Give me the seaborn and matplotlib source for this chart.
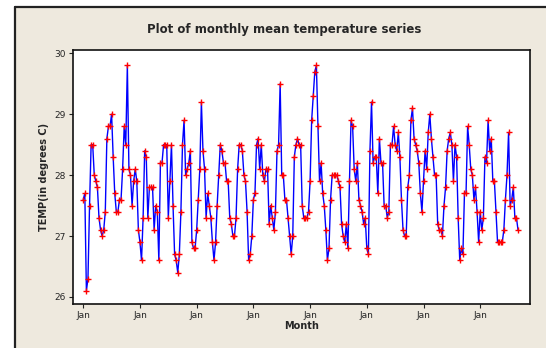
import numpy as np
import pandas as pd
import matplotlib
matplotlib.use("Agg")
import matplotlib.pyplot as plt
import seaborn as sns
from matplotlib.patches import Rectangle
from matplotlib.lines import Line2D

# monthly mean temperature (Jan..Dec)
temp = [
    27.6, 27.7, 26.1, 26.3, 27.5, 28.5, 28.5, 28.0, 27.9, 27.8, 27.3, 27.1,
    27.0, 27.1, 27.4, 28.6, 28.8, 28.8, 29.0, 28.3, 27.7, 27.4, 27.4, 27.6,
    27.6, 28.1, 28.8, 28.5, 29.8, 28.1, 28.0, 27.5, 27.9, 28.1, 27.9, 27.1,
    26.9, 26.6, 27.3, 28.4, 28.3, 27.3, 27.8, 27.8, 27.8, 27.1, 27.5, 27.4,
    26.6, 28.2, 28.2, 28.5, 28.5, 28.5, 27.3, 27.9, 28.5, 27.5, 26.7, 26.6,
    26.4, 26.7, 27.4, 28.5, 28.9, 28.0, 28.1, 28.2, 28.4, 26.9, 26.8, 26.8,
    27.1, 27.6, 28.1, 29.2, 28.4, 28.1, 27.3, 27.7, 27.5, 27.3, 26.9, 26.6,
    26.9, 27.5, 28.0, 28.5, 28.4, 28.2, 28.2, 27.9, 27.9, 27.3, 27.2, 27.0,
    27.0, 27.3, 28.1, 28.5, 28.5, 28.4, 28.0, 27.9, 27.4, 26.6, 26.7, 27.0,
    27.6, 27.7, 28.5, 28.6, 28.1, 28.5, 28.0, 27.9, 28.1, 28.1, 27.2, 27.5,
    27.3, 27.1, 27.4, 28.4, 28.5, 29.5, 28.0, 28.0, 27.6, 27.6, 27.3, 27.0,
    26.7, 27.0, 28.3, 28.5, 28.6, 28.5, 28.5, 27.5, 27.3, 27.3, 27.3, 27.4,
    27.9, 28.9, 29.3, 29.7, 29.8, 28.8, 27.9, 28.2, 27.7, 27.5, 27.1, 26.6,
    26.8, 27.6, 28.0, 28.0, 28.0, 28.0, 27.9, 27.8, 27.2, 27.0, 26.9, 27.2,
    26.8, 27.9, 28.9, 28.8, 28.1, 27.9, 28.2, 27.6, 27.5, 27.4, 27.2, 27.3,
    26.8, 26.7, 28.4, 29.2, 28.2, 28.3, 28.3, 27.7, 28.6, 28.2, 28.2, 27.5,
    27.5, 27.3, 27.4, 28.5, 28.5, 28.8, 28.5, 28.4, 28.7, 28.3, 27.6, 27.1,
    27.0, 27.0, 27.8, 28.0, 28.9, 29.1, 28.6, 28.5, 28.4, 28.2, 27.7, 27.4,
    27.9, 28.4, 28.1, 28.7, 29.0, 28.6, 28.3, 28.0, 28.0, 27.2, 27.1, 27.1,
    27.0, 27.5, 27.8, 28.4, 28.6, 28.7, 28.5, 27.9, 28.5, 28.3, 27.3, 26.6,
    26.8, 26.7, 27.7, 27.7, 28.8, 28.5, 28.1, 28.0, 27.6, 27.8, 27.4, 26.9,
    27.4, 27.1, 27.3, 28.3, 28.2, 28.9, 28.4, 28.6, 27.9, 27.9, 27.4, 26.9,
    26.9, 26.9, 26.9, 27.1, 27.6, 28.0, 28.7, 27.5, 27.6, 27.8, 27.3, 27.3,
    27.1,
]
month = list(range(len(temp)))
tick_months = list(range(0, len(temp), 36))
tick_labels = ["Jan"] * len(tick_months)
y_ticks = [26, 27, 28, 29, 30]

df = pd.DataFrame({"Month": month, "TEMP": temp})

sns.set_theme(style="white")
plt.rcParams["font.family"] = ["DejaVu Sans"]

bg = "#EEE9DE"
W, H = 546, 348
fig = plt.figure(figsize=(5.46, 3.48), dpi=100)
fig.patch.set_facecolor(bg)

# white strips outside the dark screenshot frame (left and top)
fig.patches.append(Rectangle((0, 0), 15 / W, 1, transform=fig.transFigure,
                             facecolor="white", edgecolor="none", zorder=-1))
fig.patches.append(Rectangle((0, 1 - 7 / H), 1, 7 / H, transform=fig.transFigure,
                             facecolor="white", edgecolor="none", zorder=-1))
fig.lines.append(Line2D([15 / W, 1], [1 - 7 / H, 1 - 7 / H], transform=fig.transFigure,
                        color="#222222", lw=1.6))
fig.lines.append(Line2D([15 / W, 15 / W], [0, 1 - 7 / H], transform=fig.transFigure,
                        color="#222222", lw=1.6))

ax = fig.add_axes([73 / W, 1 - 304 / H, (530 - 73) / W, (304 - 50) / H])
ax.set_zorder(2)
ax.set_facecolor("white")

sns.lineplot(data=df, x="Month", y="TEMP", ax=ax, color="#0000FF", lw=1.0,
             marker="+", markersize=4.5, markeredgecolor="#FF0000",
             markerfacecolor="#FF0000", markeredgewidth=1.0)

ax.set_xlim(-6.5, 283.6)
ax.set_ylim(25.885, 30.054)
ax.set_xticks(tick_months)
ax.set_xticklabels(tick_labels)
ax.set_yticks(y_ticks)
ax.tick_params(axis="both", direction="out", length=3, width=0.8, color="#222222",
               labelsize=6.5, pad=2, bottom=True, left=True)
for s in ax.spines.values():
    s.set_color("#111111")
    s.set_linewidth(1.2)

ax.set_xlabel("Month", fontsize=7, fontweight="bold", labelpad=1)
ax.set_ylabel("TEMP(in degrees C)", fontsize=7, fontweight="bold", labelpad=4)
fig.text(284 / W, 1 - 30 / H, "Plot of monthly mean temperature series",
         ha="center", va="center", fontsize=8.5, fontweight="bold")

fig.savefig("out.png", dpi=100, facecolor=fig.get_facecolor())
